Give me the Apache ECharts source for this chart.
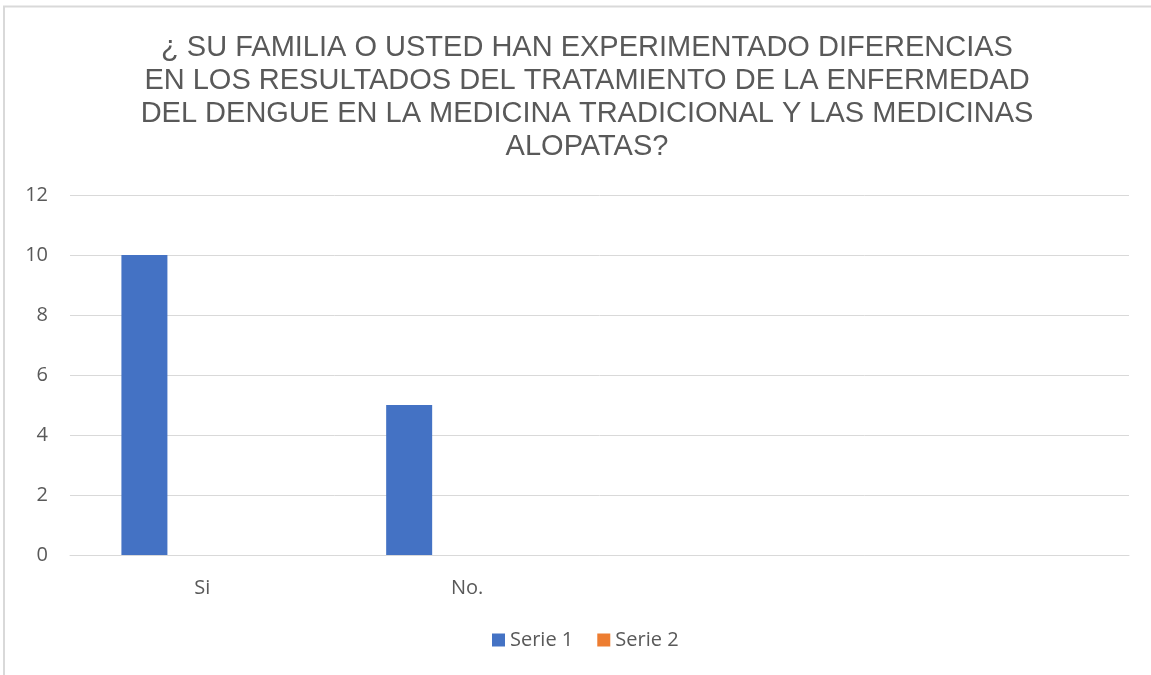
<!DOCTYPE html>
<html>
<head>
<meta charset="utf-8">
<script src="https://cdn.jsdelivr.net/npm/echarts@6/dist/echarts.min.js"></script>
<style>
html, body { margin: 0; padding: 0; background: #fff; }
#chart { width: 1151px; height: 675px; }
</style>
</head>
<body>
<div id="chart"></div>
<script>
// datos del grafico
var titleLines = [
    '¿ SU FAMILIA O USTED HAN EXPERIMENTADO DIFERENCIAS',
    'EN LOS RESULTADOS DEL TRATAMIENTO DE LA ENFERMEDAD',
    'DEL DENGUE EN LA MEDICINA TRADICIONAL Y LAS MEDICINAS',
    'ALOPATAS?'
];
var categories = ['Si', 'No.', '', ''];
var serie1 = [10, 5, null, null];
var serie2 = [0, 0, null, null];
var yTicks = { min: 0, max: 12, interval: 2 };

var myChart = echarts.init(document.getElementById('chart'));
var option = {
    backgroundColor: '#fff',
    animation: false,
    title: {
        text: titleLines.join('\n'),
        left: 582,
        textAlign: 'center',
        top: 26,
        textStyle: {
            fontFamily: 'Liberation Sans, Arial, sans-serif',
            fontSize: 29,
            fontWeight: 'normal',
            color: '#595959',
            lineHeight: 33
        }
    },
    graphic: [{
        type: 'polyline',
        shape: { points: [[4, 680], [4, 6.5], [1160, 6.5]] },
        style: { stroke: '#d9d9d9', lineWidth: 2, fill: null }
    }],
    legend: {
        bottom: 20,
        left: 487,
        itemWidth: 13,
        itemHeight: 13,
        itemGap: 24,
        icon: 'rect',
        textStyle: { fontFamily: 'Open Sans, sans-serif', fontSize: 20, color: '#595959' },
        data: ['Serie 1', 'Serie 2']
    },
    grid: { left: 70, right: 22, top: 195, bottom: 120 },
    xAxis: {
        type: 'category',
        data: categories,
        axisLine: { lineStyle: { color: '#d9d9d9', width: 1 } },
        axisTick: { show: false },
        axisLabel: { fontFamily: 'Open Sans, sans-serif', fontSize: 20, color: '#595959', margin: 23 }
    },
    yAxis: {
        type: 'value',
        min: yTicks.min,
        max: yTicks.max,
        interval: yTicks.interval,
        axisLine: { show: false },
        axisTick: { show: false },
        splitLine: { lineStyle: { color: '#d9d9d9', width: 1 } },
        axisLabel: { fontFamily: 'Open Sans, sans-serif', fontSize: 20, color: '#595959', margin: 22 }
    },
    series: [
        {
            name: 'Serie 1',
            type: 'bar',
            data: serie1,
            barWidth: 46,
            barGap: '152%',
            itemStyle: { color: '#4472c4' }
        },
        {
            name: 'Serie 2',
            type: 'bar',
            data: serie2,
            barWidth: 46,
            itemStyle: { color: '#ed7d31' }
        }
    ]
};
myChart.setOption(option);
</script>
</body>
</html>
